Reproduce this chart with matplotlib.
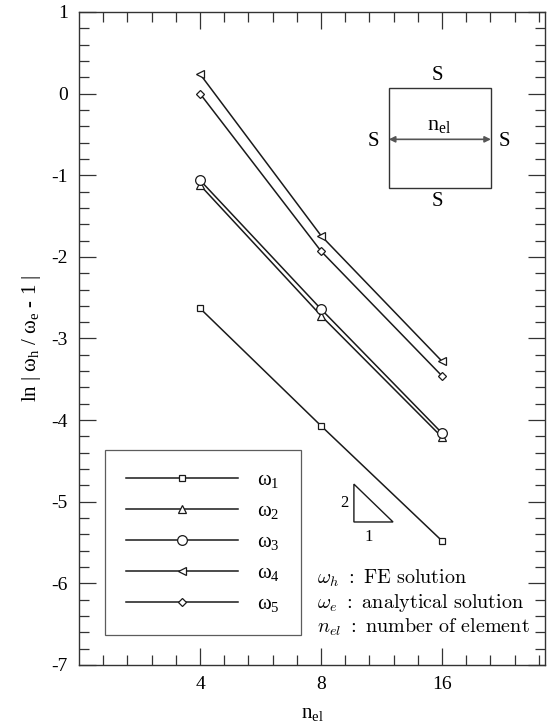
import matplotlib
matplotlib.use("Agg")
import matplotlib.pyplot as plt
from matplotlib.patches import Rectangle, Polygon
import numpy as np

plt.rcParams["font.family"] = "Liberation Serif"
plt.rcParams["mathtext.fontset"] = "custom"
plt.rcParams["mathtext.rm"] = "Liberation Serif"
plt.rcParams["mathtext.it"] = "Liberation Serif:italic"
plt.rcParams["axes.unicode_minus"] = False

# data: ln|w_h/w_e - 1| vs number of elements (log2 axis)
n_el = [4, 8, 16]
omega1 = [-2.63, -4.07, -5.48]
omega2 = [-1.12, -2.72, -4.21]
omega3 = [-1.06, -2.64, -4.16]
omega4 = [0.24, -1.74, -3.28]
omega5 = [0.00, -1.93, -3.46]

series = [omega1, omega2, omega3, omega4, omega5]
markers = ["s", "^", "o", "<", "D"]
msizes = [4.5, 6, 7, 6, 4.5]
labels = [r"$\mathrm{ω_%d}$" % i for i in range(1, 6)]

fig = plt.figure(figsize=(5.55, 7.27), dpi=100)
ax = fig.add_axes([0.1423, 0.0853, 0.8396, 0.8982])

x = np.log2(n_el)
for y, m, ms, lab in zip(series, markers, msizes, labels):
    ax.plot(x, y, color="#1a1a1a", lw=1.1, marker=m, ms=ms, mfc="white",
            mec="#1a1a1a", mew=0.9, label=lab)

ax.set_xlim(1.0, 4.85)
ax.set_ylim(-7, 1)
ax.set_xticks(x)
ax.set_xticklabels([str(n) for n in n_el])
ax.set_xticks(np.arange(1.2, 4.85, 0.2), minor=True)
ax.set_yticks(np.arange(-7, 2, 1))
ax.set_yticks(np.arange(-7, 1.01, 0.2), minor=True)
ax.tick_params(which="both", direction="in", top=True, right=True,
               labelsize=14, color="#333333", width=0.9)
ax.tick_params(which="major", length=12, pad=8)
ax.tick_params(which="minor", length=7.5)
for s in ax.spines.values():
    s.set_color("#333333")
    s.set_linewidth(1.0)

ax.set_xlabel(r"$\mathrm{n_{el}}$", fontsize=15, labelpad=8)
ax.set_ylabel(r"ln | $\mathrm{ω_h}$ / $\mathrm{ω_e}$ - 1 |", fontsize=15, labelpad=6)

leg = ax.legend(loc="lower left", bbox_to_anchor=(0.056, 0.046), fontsize=15,
                numpoints=1, handlelength=5.4, handletextpad=0.9,
                labelspacing=0.55, borderpad=1.0, borderaxespad=0,
                fancybox=False, frameon=True)
leg.get_frame().set_edgecolor("#333333")
leg.get_frame().set_linewidth(0.9)

# boundary-condition sketch
tr = ax.transAxes
ax.add_patch(Rectangle((0.665, 0.730), 0.219, 0.154, transform=tr, fill=False,
                       ec="#333333", lw=1.0))
ax.annotate("", xy=(0.665, 0.805), xytext=(0.884, 0.805), xycoords=tr,
            arrowprops=dict(arrowstyle="<|-|>", color="#555555", lw=1.2,
                            mutation_scale=9, shrinkA=0, shrinkB=0))
ax.text(0.770, 0.902, "S", transform=tr, ha="center", va="center", fontsize=15)
ax.text(0.770, 0.710, "S", transform=tr, ha="center", va="center", fontsize=15)
ax.text(0.631, 0.802, "S", transform=tr, ha="center", va="center", fontsize=15)
ax.text(0.912, 0.802, "S", transform=tr, ha="center", va="center", fontsize=15)
ax.text(0.773, 0.826, r"$\mathrm{n_{el}}$", transform=tr, ha="center",
        va="center", fontsize=16)

# slope triangle
ax.add_patch(Polygon([(0.590, 0.277), (0.590, 0.219), (0.674, 0.219)],
                     closed=True, transform=tr, fill=False, ec="#1a1a1a", lw=1.0))
ax.text(0.570, 0.248, "2", transform=tr, ha="center", va="center", fontsize=12)
ax.text(0.622, 0.196, "1", transform=tr, ha="center", va="center", fontsize=12)

# notation block
notes = [r"$\omega_h\ :\ \mathrm{FE\ solution}$",
         r"$\omega_e\ :\ \mathrm{analytical\ solution}$",
         r"$n_{el}\ :\ \mathrm{number\ of\ element}$"]
for i, t in enumerate(notes):
    ax.text(0.511, 0.133 - 0.038 * i, t, transform=tr, ha="left", va="center",
            fontsize=14.5, math_fontfamily="cm")

fig.savefig("out.png", dpi=100)
